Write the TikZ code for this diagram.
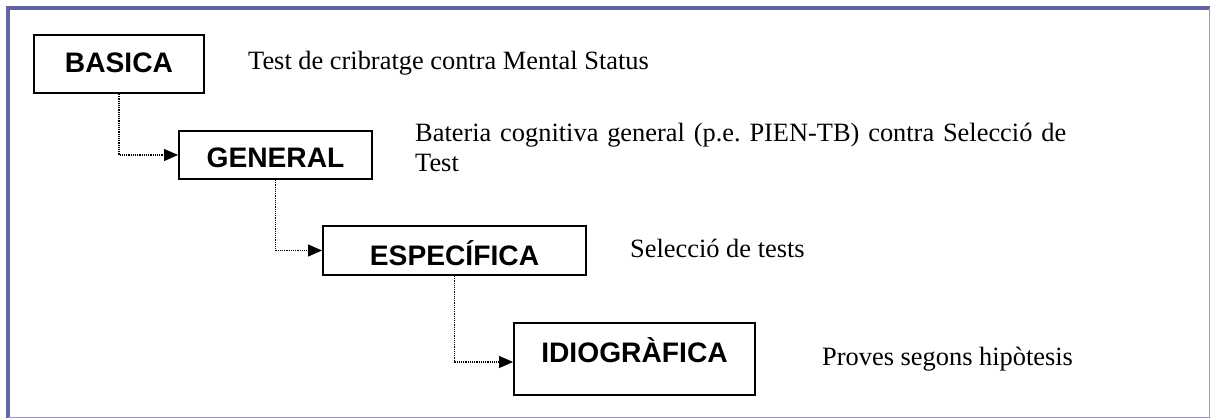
\documentclass[tikz,border=0pt]{standalone}
\usepackage{fontspec}
\setmainfont{Liberation Serif}
\newfontfamily\boxfont{Liberation Sans}
\usetikzlibrary{arrows.meta}
\definecolor{framedark}{RGB}{100,100,160}
\definecolor{framelight}{RGB}{152,152,200}
\begin{document}
\begin{tikzpicture}[x=1pt,y=-1pt,
level/.style={draw,line width=2pt,anchor=north west,inner sep=0pt,font={\boxfont\bfseries\fontsize{28.2}{30}\selectfont}},
note/.style={anchor=base west,inner sep=0pt,font={\fontsize{26.4}{29.5}\selectfont\frenchspacing}},
link/.style={densely dotted,line width=1.2pt,-{Triangle[length=14pt,width=12pt]}}]
\useasboundingbox (0,0) rectangle (1211,419);
\draw[framedark,line width=4pt] (8,418) -- (8,8) -- (1209.5,8);
\draw[framelight,line width=1pt] (1209.5,8) -- (1209.5,418) -- (8,418);
\node[level,minimum width=170pt,text height=37.7pt,text depth=20.3pt] (basica) at (33,34) {BASICA};
\node[level,minimum width=193pt,text height=37pt,text depth=11pt] (general) at (178,130) {GENERAL};
\node[level,minimum width=263pt,text height=40pt,text depth=9pt] (especifica) at (322,225) {ESPECÍFICA};
\node[level,minimum width=241pt,text height=40pt,text depth=32pt] (idiografica) at (513,322) {IDIOGRÀFICA};
\node[note] (tbasica) at (248,69.3) {Test de cribratge contra Mental Status};
\node[note,text width=705pt,align=left] (tgeneral) at (415,142) {Bateria cognitiva general (p.e. PIEN-TB) contra Selecció de\\Test};
\node[note] (tespecifica) at (630,258) {Selecció de tests};
\node[note] (tidiografica) at (822,366) {Proves segons hipòtesis};
\draw[link] (basica.south) |- (general.west);
\draw[link] (general.south) |- (especifica.west);
\draw[link] (especifica.south) |- ([yshift=-3pt]idiografica.west);
\end{tikzpicture}
\end{document}
